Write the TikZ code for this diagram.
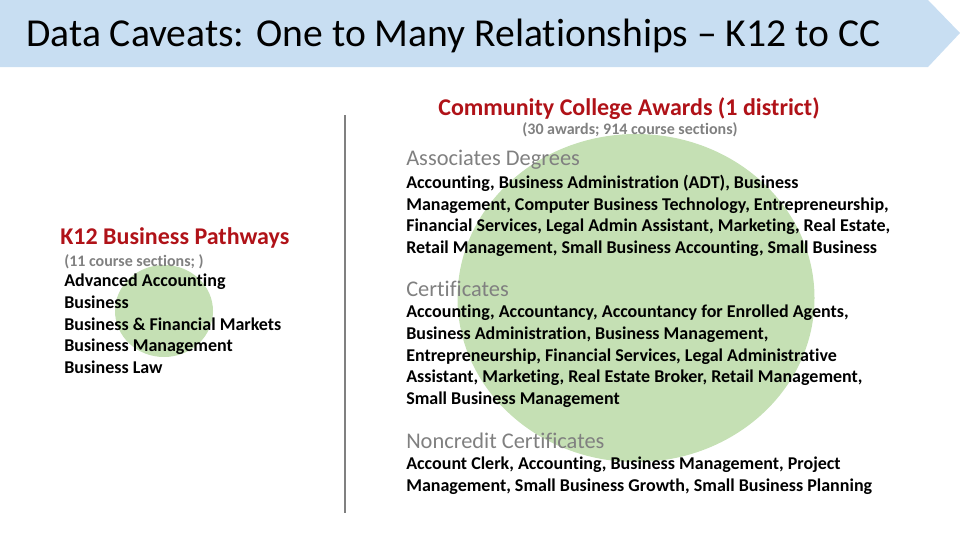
\documentclass[tikz,border=0pt]{standalone}
\usepackage{fontspec}
\setmainfont{Carlito}[Ligatures=NoCommon]
\usepackage{tikz}
\usetikzlibrary{positioning, shapes.geometric}
\definecolor{banner}{RGB}{200,222,242}
\definecolor{blob}{RGB}{197,224,180}
\definecolor{deepred}{RGB}{176,18,24}
\definecolor{midgray}{RGB}{128,128,128}
\tikzset{%
	head/.style = {name = #1, text = deepred, font = \bfseries\fontsize{18}{21}\selectfont, inner sep = 0pt},
	sub/.style = {name = #1, text = midgray, font = \bfseries\fontsize{12}{14}\selectfont, inner sep = 0pt},
	cat/.style = {name = #1, text = midgray, font = \fontsize{16.8}{19}\selectfont, anchor = west, inner sep = 0pt},
	body/.style = {name = #1, font = \bfseries\fontsize{13.5}{16.25}\selectfont, align = left, anchor = north west, inner sep = 0pt},
	spot/.style = {name = #1, ellipse, fill = blob, inner sep = 0pt}
}
\begin{document}
\begin{tikzpicture}[x=0.75pt,y=-0.75pt]
			\useasboundingbox (0,0) rectangle (960,540);
			% banner
			\fill [banner] (0,0) -- (928,0) -- (960,33) -- (928,67) -- (0,67) -- cycle;
			\node [anchor = west, inner sep = 0pt, font = \fontsize{29.7}{33}\selectfont] (title) at (26,36) {Data Caveats: One to Many Relationships -- K12 to CC};
			% circles
			\node [spot = {big}, minimum width = 357*0.75pt, minimum height = 328*0.75pt] at (636,298) {};
			\node [spot = {small}, minimum width = 98*0.75pt, minimum height = 92*0.75pt] at (164,311) {};
			% divider
			\draw [midgray, line width = 2.2pt] (345,115) -- (345,513);
			% community college side
			\node [head = {cc}] at (629,109) {Community College Awards (1 district)};
			\node [sub = {ccsub}] at (630,130) {(30 awards; 914 course sections)};
			\node [cat = {assoc}] at (406,160) {Associates Degrees};
			\node [body = {assoclist}] at (406,175) {Accounting, Business Administration (ADT), Business\\
				Management, Computer Business Technology, Entrepreneurship,\\
				Financial Services, Legal Admin Assistant, Marketing, Real Estate,\\
				Retail Management, Small Business Accounting, Small Business};
			\node [cat = {cert}] at (406,289) {Certificates};
			\node [body = {certlist}] at (406,305) {Accounting, Accountancy, Accountancy for Enrolled Agents,\\
				Business Administration, Business Management,\\
				Entrepreneurship, Financial Services, Legal Administrative\\
				Assistant, Marketing, Real Estate Broker, Retail Management,\\
				Small Business Management};
			\node [cat = {noncr}] at (406,441) {Noncredit Certificates};
			\node [body = {noncrlist}] at (406,457) {Account Clerk, Accounting, Business Management, Project\\
				Management, Small Business Growth, Small Business Planning};
			% k12 side
			\node [head = {k12}, anchor = west] at (60,238) {K12 Business Pathways};
			\node [sub = {k12sub}, anchor = west] at (64,262) {(11 course sections; )};
			\node [body = {k12list}] at (64,274) {Advanced Accounting\\
				Business\\
				Business \& Financial Markets\\
				Business Management\\
				Business Law};
\end{tikzpicture}
\end{document}
